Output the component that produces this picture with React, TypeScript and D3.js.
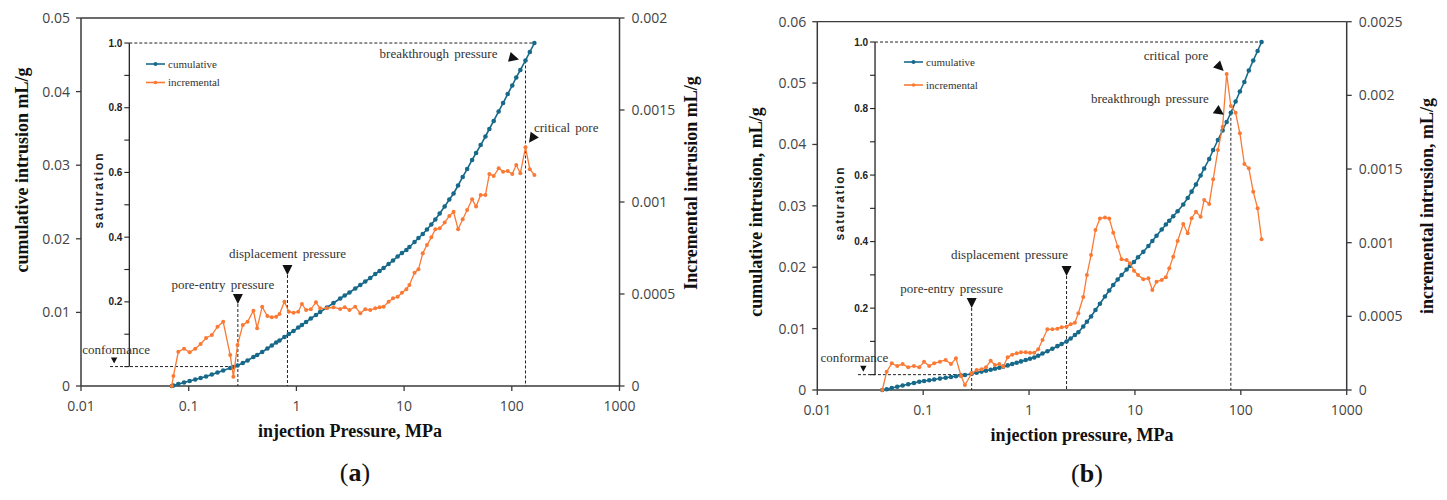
import React from 'react';
import * as d3 from 'd3';

// ---------------- DATA ----------------
const pressureTicks = [0.01, 0.1, 1, 10, 100, 1000];
const saturationTicks = [0, 0.1, 0.2, 0.3, 0.4, 0.5, 0.6, 0.7, 0.8, 0.9, 1.0];
const saturationLabels = [0.2, 0.4, 0.6, 0.8, 1.0];

// Panel (a)
const pressureA = [0.0697, 0.0721, 0.0801, 0.0906, 0.102, 0.115, 0.129, 0.145, 0.164, 0.185, 0.209, 0.243, 0.26, 0.284, 0.318, 0.352, 0.399, 0.432, 0.481, 0.538, 0.591, 0.649, 0.697, 0.774, 0.851, 0.94, 1.04, 1.125, 1.23, 1.36, 1.52, 1.66, 1.92, 2.21, 2.55, 2.81, 3.11, 3.52, 3.92, 4.36, 4.85, 5.4, 5.92, 6.45, 7.18, 7.89, 8.71, 9.55, 10.5, 11.2, 12.5, 13.6, 14.9, 16.3, 17.9, 19.5, 21.4, 23.8, 26.3, 28.8, 31.7, 35.0, 38.5, 42.8, 46.6, 51.4, 56.9, 61.9, 67.9, 75.5, 83.0, 91.6, 101, 110, 120, 134, 147, 162];
const cumulativeA = [0, 0.00007, 0.00027, 0.00048, 0.00068, 0.00088, 0.00109, 0.00129, 0.00156, 0.00183, 0.00211, 0.00245, 0.00258, 0.00279, 0.00313, 0.00346, 0.00394, 0.00421, 0.00462, 0.0051, 0.0055, 0.00591, 0.00618, 0.00666, 0.00707, 0.00747, 0.00795, 0.00829, 0.0087, 0.00917, 0.00965, 0.01005, 0.01067, 0.01128, 0.01189, 0.0123, 0.0127, 0.01325, 0.01372, 0.0142, 0.01467, 0.01522, 0.01563, 0.01603, 0.01658, 0.01705, 0.0176, 0.01807, 0.01848, 0.01889, 0.01957, 0.02011, 0.02065, 0.02126, 0.02194, 0.02262, 0.02344, 0.02439, 0.02534, 0.02616, 0.02724, 0.0284, 0.02948, 0.03071, 0.03166, 0.03274, 0.0339, 0.03492, 0.03601, 0.0373, 0.03845, 0.03967, 0.04083, 0.04192, 0.04293, 0.04423, 0.04538, 0.0466];
const incrementalA = [0, 0.0000543, 0.000186, 0.000203, 0.000183, 0.000203, 0.000228, 0.000261, 0.000277, 0.000322, 0.000349, 0.000168, 0.0000505, 0.000223, 0.000332, 0.000349, 0.000409, 0.000314, 0.000431, 0.00038, 0.000373, 0.000377, 0.000391, 0.000458, 0.000404, 0.000398, 0.000404, 0.000446, 0.000413, 0.000417, 0.000455, 0.000422, 0.000422, 0.000428, 0.000418, 0.000428, 0.000413, 0.000431, 0.000395, 0.000417, 0.000413, 0.000422, 0.000428, 0.000431, 0.000458, 0.000477, 0.000485, 0.000507, 0.000526, 0.000549, 0.000616, 0.000634, 0.000721, 0.000766, 0.000808, 0.000852, 0.000857, 0.000888, 0.000924, 0.000947, 0.000852, 0.000906, 0.000957, 0.001015, 0.000975, 0.001038, 0.001038, 0.001152, 0.001141, 0.001183, 0.001165, 0.001168, 0.001152, 0.001201, 0.001156, 0.001297, 0.001178, 0.001147];
const cumTicksA = [0, 0.01, 0.02, 0.03, 0.04, 0.05];
const incTicksA = [0, 0.0005, 0.001, 0.0015, 0.002];

// Panel (b)
const pressureB = [0.0411, 0.0452, 0.0505, 0.0569, 0.064, 0.0722, 0.0818, 0.0918, 0.102, 0.114, 0.127, 0.144, 0.163, 0.183, 0.204, 0.228, 0.248, 0.287, 0.32, 0.356, 0.392, 0.434, 0.476, 0.524, 0.57, 0.628, 0.693, 0.764, 0.839, 0.929, 1.02, 1.12, 1.22, 1.34, 1.49, 1.66, 1.85, 2.03, 2.26, 2.47, 2.71, 2.92, 3.25, 3.52, 3.85, 4.24, 4.67, 5.21, 5.72, 6.24, 6.87, 7.48, 8.35, 8.97, 9.79, 10.7, 12.0, 13.4, 14.6, 16.0, 17.9, 19.6, 21.1, 23.0, 25.3, 28.6, 31.5, 34.3, 37.7, 41.7, 45.1, 50.3, 54.8, 60.8, 67.3, 73.5, 80.5, 89.3, 98.0, 108, 119, 131, 144, 157];
const cumulativeB = [0, 0.00011, 0.00033, 0.00054, 0.00073, 0.00094, 0.00114, 0.00134, 0.00147, 0.00158, 0.00171, 0.00186, 0.00199, 0.00212, 0.00225, 0.00236, 0.00244, 0.00266, 0.00282, 0.003, 0.00314, 0.00331, 0.00345, 0.00362, 0.0038, 0.00401, 0.00424, 0.00445, 0.00466, 0.00489, 0.0051, 0.00529, 0.00557, 0.00595, 0.00632, 0.00673, 0.00714, 0.00749, 0.0079, 0.00839, 0.00896, 0.0094, 0.01034, 0.01111, 0.01197, 0.01303, 0.01404, 0.01523, 0.01621, 0.01711, 0.018, 0.01873, 0.01963, 0.0202, 0.02085, 0.02162, 0.02251, 0.02346, 0.02427, 0.02514, 0.02615, 0.02696, 0.02757, 0.0283, 0.02911, 0.03022, 0.03128, 0.03231, 0.03348, 0.03494, 0.03609, 0.03763, 0.0391, 0.04073, 0.04228, 0.04366, 0.04516, 0.047, 0.04863, 0.05018, 0.05205, 0.05368, 0.05523, 0.05669];
const incrementalB = [0, 0.000124, 0.000181, 0.000163, 0.000176, 0.000154, 0.000163, 0.000154, 0.000192, 0.000163, 0.000181, 0.000192, 0.000204, 0.000176, 0.000215, 0.000095, 0.000034, 0.000113, 0.000136, 0.000141, 0.000154, 0.000199, 0.00017, 0.000176, 0.000158, 0.000222, 0.00024, 0.000249, 0.000256, 0.000256, 0.000253, 0.000253, 0.000276, 0.000339, 0.000412, 0.000412, 0.000416, 0.000426, 0.00043, 0.000446, 0.000457, 0.000521, 0.000631, 0.000781, 0.000916, 0.001086, 0.001164, 0.001171, 0.001164, 0.001068, 0.000973, 0.000887, 0.000882, 0.00086, 0.00081, 0.000781, 0.000751, 0.000758, 0.000679, 0.000735, 0.000747, 0.000765, 0.000826, 0.000905, 0.001011, 0.001127, 0.001064, 0.001166, 0.00121, 0.001176, 0.00129, 0.001263, 0.00143, 0.001629, 0.001787, 0.002145, 0.001928, 0.001882, 0.001742, 0.001534, 0.001505, 0.001346, 0.001233, 0.001023];
const cumTicksB = [0, 0.01, 0.02, 0.03, 0.04, 0.05, 0.06];
const incTicksB = [0, 0.0005, 0.001, 0.0015, 0.002, 0.0025];

// ---------------- STYLE ----------------
const BLUE = '#17698a';
const ORANGE = '#fa7a35';
const AXIS = '#3a3a3a';
const SANS = "'Open Sans', 'DejaVu Sans', sans-serif";
const BOLDSANS = "'Liberation Sans', Arial, sans-serif";
const SERIF = "'Liberation Serif', 'Times New Roman', serif";

type Pointer = {
  index: number; series: 'cum' | 'inc'; tipDx: number; tipDy: number; angle: number;
  text: string; textDx: number; textDy: number; anchor: 'start' | 'end';
};

type PanelProps = {
  left: number; right: number; top: number; bottom: number;
  pressure: number[]; cum: number[]; inc: number[];
  cumMax: number; incMax: number; cumTicks: number[]; incTicks: number[];
  cumTitle: string; incTitle: string; xTitle: string; letter: string;
  cumTitlePos: [number, number]; incTitlePos: [number, number];
  xTitleX: number; xTitleY: number; letterPos: [number, number];
  insetP: number; satLabelPos: [number, number]; satLabelLen: number;
  conformanceStartP: number; conformanceP: number; conformanceValue: number; conformanceTextDx: number;
  poreEntryP: number; poreEntryTop: number; poreEntryTextDx: number;
  displacementP: number; displacementTop: number; displacementTextDx: number;
  breakIndex: number;
  pointers: Pointer[];
  legendX: number; legendY: [number, number];
};

function triangle(tx: number, ty: number, angleDeg: number, len: number, halfW: number) {
  const a = (angleDeg * Math.PI) / 180;
  const dx = Math.cos(a), dy = Math.sin(a);
  const bx = tx - dx * len, by = ty - dy * len;
  const px = -dy, py = dx;
  return `M${tx},${ty}L${bx + px * halfW},${by + py * halfW}L${bx - px * halfW},${by - py * halfW}Z`;
}

function fmt(v: number) {
  return String(v);
}

function Panel(p: PanelProps) {
  const x = d3.scaleLog().domain([0.01, 1000]).range([p.left, p.right]);
  const yc = d3.scaleLinear().domain([0, p.cumMax]).range([p.bottom, p.top]);
  const yi = d3.scaleLinear().domain([0, p.incMax]).range([p.bottom, p.top]);
  const cumEnd = p.cum[p.cum.length - 1];
  const ys = d3.scaleLinear().domain([0, 1]).range([yc(p.conformanceValue), yc(cumEnd)]);

  const cumPts = p.pressure.map((v, i) => [v, p.cum[i]] as [number, number]);
  const incPts = p.pressure.map((v, i) => [v, p.inc[i]] as [number, number]);
  const cumLine = d3.line<[number, number]>().x(d => x(d[0])).y(d => yc(d[1]));
  const incLine = d3.line<[number, number]>().x(d => x(d[0])).y(d => yi(d[1]));

  const insetX = x(p.insetP);
  const dash = '3,2';
  const annFont = { fontFamily: SERIF, fontSize: 13, fill: '#333', wordSpacing: 2 } as const;

  const bx = x(p.pressure[p.breakIndex]);
  const by = yc(p.cum[p.breakIndex]);
  const peX = x(p.poreEntryP), peTop = yc(p.poreEntryTop);
  const dpX = x(p.displacementP), dpTop = yc(p.displacementTop);
  const cfY = yc(p.conformanceValue);
  const cfX = x(p.conformanceP);

  return (
    <g>
      {/* frame */}
      <line x1={p.left} x2={p.right} y1={p.top} y2={p.top} stroke={AXIS} strokeWidth={1.3} />
      <line x1={p.left} x2={p.right} y1={p.bottom} y2={p.bottom} stroke={AXIS} strokeWidth={1.5} />
      <line x1={p.left} x2={p.left} y1={p.top} y2={p.bottom} stroke={AXIS} strokeWidth={1.5} />
      <line x1={p.right} x2={p.right} y1={p.top} y2={p.bottom} stroke={AXIS} strokeWidth={1.5} />

      {/* left axis ticks */}
      {p.cumTicks.map(t => (
        <g key={'c' + t}>
          <line x1={p.left - 5} x2={p.left} y1={yc(t)} y2={yc(t)} stroke={AXIS} strokeWidth={1.3} />
          <text x={p.left - 11} y={yc(t)} dy="0.35em" textAnchor="end" fontFamily={SANS} fontSize={14} fill="#444">{fmt(t)}</text>
        </g>
      ))}
      {/* right axis ticks */}
      {p.incTicks.map(t => (
        <g key={'i' + t}>
          <line x1={p.right} x2={p.right + 5} y1={yi(t)} y2={yi(t)} stroke={AXIS} strokeWidth={1.3} />
          <text x={p.right + 12} y={yi(t)} dy="0.35em" textAnchor="start" fontFamily={SANS} fontSize={14} fill="#444">{fmt(t)}</text>
        </g>
      ))}
      {/* x ticks */}
      {pressureTicks.map(t => (
        <g key={'x' + t}>
          <line x1={x(t)} x2={x(t)} y1={p.bottom} y2={p.bottom + 5} stroke={AXIS} strokeWidth={1.3} />
          <text x={x(t)} y={p.bottom + 25} textAnchor="middle" fontFamily={SANS} fontSize={14} fill="#444">{fmt(t)}</text>
        </g>
      ))}

      {/* axis titles */}
      <text transform={`translate(${p.cumTitlePos[0]},${p.cumTitlePos[1]}) rotate(-90)`} textAnchor="middle" dominantBaseline="central"
        fontFamily={SERIF} fontWeight="bold" fontSize={18} fill="#111">{p.cumTitle}</text>
      <text transform={`translate(${p.incTitlePos[0]},${p.incTitlePos[1]}) rotate(-90)`} textAnchor="middle" dominantBaseline="central"
        fontFamily={SERIF} fontWeight="bold" fontSize={18} fill="#111">{p.incTitle}</text>
      <text x={p.xTitleX} y={p.xTitleY} textAnchor="middle" fontFamily={SERIF} fontWeight="bold" fontSize={18} fill="#111">{p.xTitle}</text>

      {/* panel letter */}
      <text x={p.letterPos[0]} y={p.letterPos[1]} textAnchor="middle" fontFamily={SERIF} fontSize={26} fill="#111">
        (<tspan fontWeight="bold">{p.letter}</tspan>)
      </text>

      {/* saturation inset axis */}
      <line x1={insetX} x2={insetX} y1={ys(1)} y2={ys(0)} stroke="#222" strokeWidth={1.3} />
      {saturationTicks.map(t => (
        <line key={'s' + t} x1={insetX - 5} x2={insetX} y1={ys(t)} y2={ys(t)} stroke="#222" strokeWidth={1.1} />
      ))}
      {saturationLabels.map(t => (
        <text key={'sl' + t} x={insetX - 7} y={ys(t)} dy="0.35em" textAnchor="end" fontFamily={BOLDSANS} fontWeight="bold" fontSize={10} fill="#222">{d3.format('.1f')(t)}</text>
      ))}
      <text transform={`translate(${p.satLabelPos[0]},${p.satLabelPos[1]}) rotate(-90)`} textAnchor="middle" dominantBaseline="central"
        fontFamily={BOLDSANS} fontWeight="bold" fontSize={12} fill="#222" textLength={p.satLabelLen} lengthAdjust="spacing">saturation</text>

      {/* dashed guide lines */}
      <line x1={insetX} x2={x(p.pressure[p.pressure.length - 1])} y1={yc(cumEnd)} y2={yc(cumEnd)} stroke="#222" strokeWidth={1} strokeDasharray={dash} />
      <line x1={x(p.conformanceStartP)} x2={peX} y1={cfY} y2={cfY} stroke="#222" strokeWidth={1} strokeDasharray={dash} />
      <line x1={peX} x2={peX} y1={peTop} y2={p.bottom} stroke="#222" strokeWidth={1} strokeDasharray={dash} />
      <line x1={dpX} x2={dpX} y1={dpTop} y2={p.bottom} stroke="#222" strokeWidth={1} strokeDasharray={dash} />
      <line x1={bx} x2={bx} y1={by} y2={p.bottom} stroke="#222" strokeWidth={1} strokeDasharray={dash} />

      {/* down-pointing markers */}
      <path d={triangle(cfX, cfY - 3, 90, 6, 3.2)} fill="#111" />
      <text x={cfX + p.conformanceTextDx} y={cfY - 13} textAnchor="middle" {...annFont}>conformance</text>
      <path d={triangle(peX, peTop, 90, 10, 5)} fill="#111" />
      <text x={peX + p.poreEntryTextDx} y={peTop - 15} textAnchor="middle" {...annFont}>pore-entry pressure</text>
      <path d={triangle(dpX, dpTop, 90, 10, 5)} fill="#111" />
      <text x={dpX + p.displacementTextDx} y={dpTop - 17} textAnchor="middle" {...annFont}>displacement pressure</text>

      {/* series */}
      <path d={cumLine(cumPts) || ''} fill="none" stroke={BLUE} strokeWidth={1.6} />
      {cumPts.map((d, i) => (
        <circle key={'cp' + i} cx={x(d[0])} cy={yc(d[1])} r={2.3} fill={BLUE} />
      ))}
      <path d={incLine(incPts) || ''} fill="none" stroke={ORANGE} strokeWidth={1.3} />
      {incPts.map((d, i) => (
        <circle key={'ip' + i} cx={x(d[0])} cy={yi(d[1])} r={2} fill={ORANGE} />
      ))}

      {/* pointer annotations */}
      {p.pointers.map((a, k) => {
        const px = x(p.pressure[a.index]);
        const py = a.series === 'cum' ? yc(p.cum[a.index]) : yi(p.inc[a.index]);
        return (
          <g key={'pt' + k}>
            <path d={triangle(px + a.tipDx, py + a.tipDy, a.angle, 10, 5)} fill="#111" />
            <text x={px + a.textDx} y={py + a.textDy} textAnchor={a.anchor} {...annFont}>{a.text}</text>
          </g>
        );
      })}

      {/* legend */}
      {[{ c: BLUE, t: 'cumulative', r: 2 }, { c: ORANGE, t: 'incremental', r: 1.8 }].map((l, i) => (
        <g key={'lg' + i}>
          <line x1={p.legendX} x2={p.legendX + 19} y1={p.legendY[i]} y2={p.legendY[i]} stroke={l.c} strokeWidth={1.6} />
          <circle cx={p.legendX + 9.5} cy={p.legendY[i]} r={l.r} fill={l.c} />
          <text x={p.legendX + 22} y={p.legendY[i]} dy="0.33em" fontFamily={SERIF} fontSize={11} fill="#333">{l.t}</text>
        </g>
      ))}
    </g>
  );
}

export default function App() {
  return (
    <svg width={1447} height={500} viewBox="0 0 1447 500"
      style={{ position: 'absolute', left: 0, top: 0, background: '#fff' }}>
      <rect x={0} y={0} width={1447} height={500} fill="#fff" />
      <Panel
        left={81} right={619.5} top={18} bottom={386}
        pressure={pressureA} cum={cumulativeA} inc={incrementalA}
        cumMax={0.05} incMax={0.002} cumTicks={cumTicksA} incTicks={incTicksA}
        cumTitle="cumulative intrusion mL/g" incTitle="Incremental intrusion mL/g"
        xTitle="injection Pressure, MPa" letter="a"
        cumTitlePos={[22, 170]} incTitlePos={[691, 183]} xTitleX={350} xTitleY={437} letterPos={[355, 481]}
        insetP={0.0281} satLabelPos={[99, 191]} satLabelLen={75}
        conformanceStartP={0.0186} conformanceP={0.0203} conformanceValue={0.00264} conformanceTextDx={2}
        poreEntryP={0.286} poreEntryTop={0.01114} poreEntryTextDx={-15}
        displacementP={0.826} displacementTop={0.01508} displacementTextDx={0}
        breakIndex={75}
        pointers={[
          { index: 75, series: 'cum', tipDx: -6.5, tipDy: -1, angle: 15, text: 'breakthrough pressure', textDx: -28, textDy: -2.5, anchor: 'end' },
          { index: 75, series: 'inc', tipDx: 3.5, tipDy: -4.5, angle: 125, text: 'critical pore', textDx: 8.5, textDy: -15.5, anchor: 'start' },
        ]}
        legendX={146} legendY={[64, 82.5]}
      />
      <Panel
        left={817.3} right={1346.7} top={21.7} bottom={390}
        pressure={pressureB} cum={cumulativeB} inc={incrementalB}
        cumMax={0.06} incMax={0.0025} cumTicks={cumTicksB} incTicks={incTicksB}
        cumTitle="cumulative intrusion, mL/g" incTitle="incremental intrusion, mL/g"
        xTitle="injection pressure, MPa" letter="b"
        cumTitlePos={[756, 212]} incTitlePos={[1427, 206]} xTitleX={1082} xTitleY={441} letterPos={[1087, 482]}
        insetP={0.0351} satLabelPos={[840, 204]} satLabelLen={73}
        conformanceStartP={0.0242} conformanceP={0.0272} conformanceValue={0.0025} conformanceTextDx={-9}
        poreEntryP={0.287} poreEntryTop={0.01336} poreEntryTextDx={-20}
        displacementP={2.26} displacementTop={0.01857} displacementTextDx={-57}
        breakIndex={76}
        pointers={[
          { index: 76, series: 'cum', tipDx: -7, tipDy: 2, angle: 35, text: 'breakthrough pressure', textDx: -22, textDy: -10, anchor: 'end' },
          { index: 75, series: 'inc', tipDx: -3, tipDy: -3, angle: 45, text: 'critical pore', textDx: -18.5, textDy: -14, anchor: 'end' },
        ]}
        legendX={904} legendY={[62, 85]}
      />
    </svg>
  );
}
